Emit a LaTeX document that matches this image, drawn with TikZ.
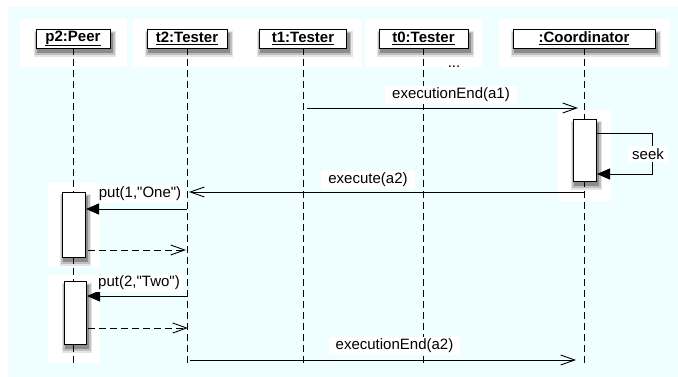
\documentclass[tikz,border=0pt]{standalone}
\usepackage{fontspec}
\setmainfont{Liberation Sans}
\usetikzlibrary{arrows.meta,backgrounds}
\definecolor{sheet}{RGB}{239,255,255}
\newcommand\seqfont{\fontsize{15}{18}\selectfont}
\tikzset{
  object/.style={draw, fill=white, font=\seqfont\bfseries, minimum height=19pt, inner sep=0pt},
  actbar/.style={draw, fill=white, minimum width=23pt, inner sep=0pt},
  glow/.style={fill=white},
  lifeline/.style={dash pattern=on 7pt off 4pt},
  msg/.style={-{Straight Barb[length=14pt,width=10pt]}},
  call/.style={-{Triangle[length=13pt,width=11pt]}},
  reply/.style={msg, dash pattern=on 7pt off 4pt},
  tag/.style={fill=white, inner xsep=7pt, inner ysep=2pt},
}
\begin{document}
\begin{tikzpicture}[x=1pt, y=-1pt, line width=0.9pt, font=\seqfont]
  \useasboundingbox (0,0) rectangle (678,377);
  \begin{scope}[on background layer]
    \fill[sheet] (8,7) rectangle (678,377);
    % white halos
    \fill[glow] (20,19) rectangle (127,67);
    \fill[glow] (133,19) rectangle (361,67);
    \fill[glow] (365,19) rectangle (482,67);
    \fill[glow] (499,19) rectangle (670,67);
    \fill[glow] (558,110) rectangle (611,201);
    \fill[glow] (48,183) rectangle (100,267);
    \fill[glow] (48,275) rectangle (100,363);
  \end{scope}

  % objects
  \node[object, minimum width=74pt] (p2) at (73,38.5) {\underline{p2:Peer}};
  \node[object, minimum width=80pt] (t2) at (187,38.5) {\underline{t2:Tester}};
  \node[object, minimum width=87pt] (t1) at (303,38.5) {\underline{t1:Tester}};
  \node[object, minimum width=89pt] (t0) at (423.5,38.5) {\underline{t0:Tester}};
  \node[object, minimum width=142pt] (co) at (584,38.5) {\underline{:Coordinator}};

  \coordinate (p2end) at (73,367);
  \coordinate (t2end) at (187,367);
  \coordinate (t1end) at (303,367);
  \coordinate (t0end) at (423.5,367);
  \coordinate (coend) at (584,367);
  \begin{scope}[lifeline]
    \draw (p2.south) -- (p2end);
    \draw (t2.south) -- (t2end);
    \draw (t1.south) -- (t1end);
    \draw (t0.south) -- (t0end);
    \draw (co.south) -- (coend);
  \end{scope}

  % activations
  \node[actbar, minimum height=62pt] (cobar) at (584.5,150) {};
  \node[actbar, minimum height=65pt] (p2bar1) at (73.5,224.5) {};
  \node[actbar, minimum height=63pt, minimum width=22pt] (p2bar2) at (75,312.5) {};

  % shadows
  \begin{scope}[on background layer]
    \foreach \n in {p2,t2,t1,t0,co,cobar,p2bar1,p2bar2} {
      \fill[black!10] ([xshift=-2pt,yshift=-9pt]\n.south west) rectangle ([xshift=6pt,yshift=-2pt]\n.north east);
      \fill[black!25] ([xshift=-1pt,yshift=-7pt]\n.south west) rectangle ([xshift=4.5pt,yshift=-3pt]\n.north east);
      \fill[black!45] ([xshift=1pt,yshift=-5pt]\n.south west) rectangle ([xshift=3pt,yshift=-4pt]\n.north east);
    }
  \end{scope}

  \node[fill=white, inner xsep=5pt, inner ysep=1pt] (more) at (454,67) {...};

  % messages
  \coordinate (m1a) at (307,108);
  \coordinate (m1b) at (578,108);
  \coordinate (s1) at (596,133);
  \coordinate (s2) at (652,133);
  \coordinate (s3) at (652,174);
  \coordinate (s4) at (597,174);
  \coordinate (m2a) at (584,192);
  \coordinate (m2b) at (189,192);
  \coordinate (m3a) at (187,209);
  \coordinate (m3b) at (86,209);
  \coordinate (r1a) at (88,250);
  \coordinate (r1b) at (186,250);
  \coordinate (m4a) at (187,296);
  \coordinate (m4b) at (87,296);
  \coordinate (r2a) at (88,328);
  \coordinate (r2b) at (188,328);
  \coordinate (m5a) at (190,360);
  \coordinate (m5b) at (576,360);

  \draw[msg] (m1a) -- (m1b);
  \draw[call] (s1) -- (s2) -- (s3) -- (s4);
  \draw[msg] (m2a) -- (m2b);
  \draw[call] (m3a) -- (m3b);
  \draw[reply] (r1a) -- (r1b);
  \draw[call] (m4a) -- (m4b);
  \draw[reply] (r2a) -- (r2b);
  \draw[msg] (m5a) -- (m5b);

  % labels
  \node[tag] (l1) at (451,95) {executionEnd(a1)};
  \node[tag, inner xsep=4pt] (l2) at (648,154) {seek};
  \node[tag] (l3) at (368,180) {execute(a2)};
  \node[tag, inner xsep=3pt] (l4) at (140,194) {put(1,\textquotedbl One\textquotedbl)};
  \node[tag, inner xsep=3pt] (l5) at (139,283) {put(2,\textquotedbl Two\textquotedbl)};
  \node[tag] (l6) at (394.5,346) {executionEnd(a2)};
\end{tikzpicture}
\end{document}
